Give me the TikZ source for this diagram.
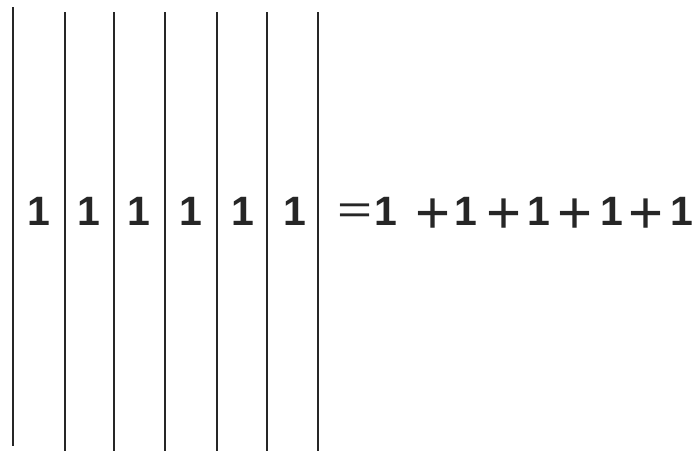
\documentclass[tikz,border=0pt]{standalone}
\usepackage{fontspec}
\setmainfont{Liberation Sans}
\begin{document}
\begin{tikzpicture}[x=1pt,y=-1pt,
  bar/.style={line width=2.6pt,black!85},
  one/.style={font=\fontsize{41}{41}\selectfont\bfseries,inner sep=0pt,anchor=center,text=black!85},
  op/.style={font=\fontsize{40}{40}\selectfont,inner sep=0pt,anchor=center,text=black!85},
  plus/.style={op,scale=1.5}]
\useasboundingbox (0,0) rectangle (695,453);
% vertical bars
\draw[bar] (13,7) -- (13,446);
\draw[bar] (65,12) -- (65,451);
\draw[bar] (114,12) -- (114,451);
\draw[bar] (165,12) -- (165,451);
\draw[bar] (217,12) -- (217,451);
\draw[bar] (267,12) -- (267,451);
\draw[bar] (318,12) -- (318,451);
% ones between the bars
\node[one] (a1) at (39,211) {1};
\node[one] (a2) at (89,211) {1};
\node[one] (a3) at (139,211) {1};
\node[one] (a4) at (191,211) {1};
\node[one] (a5) at (243,211) {1};
\node[one] (a6) at (295,211) {1};
% right-hand sum
\node[op,xscale=1.5] (eq) at (355,214) {=};
\node[one] (b1) at (386,211) {1};
\node[plus] (p1) at (433,216) {+};
\node[one] (b2) at (466,211) {1};
\node[plus] (p2) at (504,216) {+};
\node[one] (b3) at (539,211) {1};
\node[plus] (p3) at (575,216) {+};
\node[one] (b4) at (612,211) {1};
\node[plus] (p4) at (646,216) {+};
\node[one] (b5) at (682,211) {1};
\end{tikzpicture}
\end{document}
